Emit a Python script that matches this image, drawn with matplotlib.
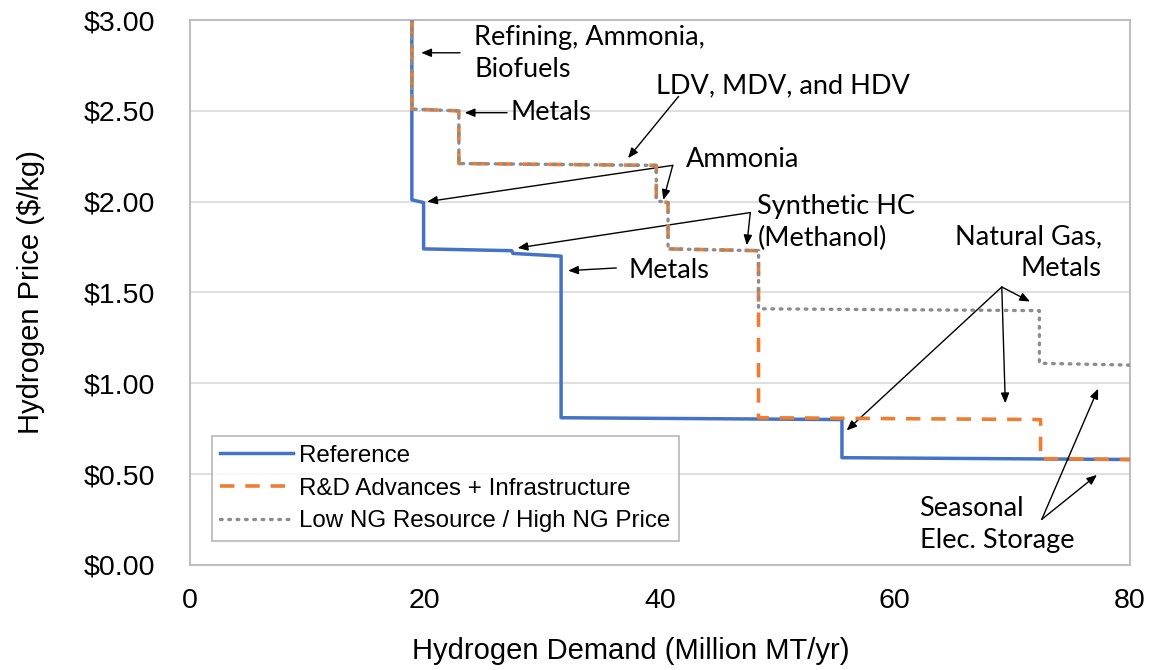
import matplotlib
matplotlib.use("Agg")
import matplotlib.pyplot as plt
from matplotlib.ticker import FuncFormatter

# step curves (demand in Million MT/yr, price in $/kg)
ref_x = [18.9, 18.9, 19.9, 19.9, 27.4, 27.5, 31.6, 31.6, 55.5, 55.5, 80.0]
ref_y = [3.00, 2.01, 1.995, 1.74, 1.73, 1.715, 1.70, 0.81, 0.80, 0.59, 0.58]

rd_x = [18.9, 18.9, 22.9, 22.9, 39.7, 39.7, 40.7, 40.7, 48.4, 48.4, 72.4, 72.4, 80.0]
rd_y = [3.00, 2.51, 2.50, 2.21, 2.20, 2.005, 1.995, 1.74, 1.73, 0.81, 0.80, 0.585, 0.58]

ng_x = [18.9, 18.9, 22.9, 22.9, 39.7, 39.7, 40.7, 40.7, 48.4, 48.4, 72.3, 72.3, 80.0]
ng_y = [3.00, 2.51, 2.50, 2.21, 2.20, 2.005, 1.995, 1.74, 1.73, 1.41, 1.40, 1.11, 1.10]

series_names = ["Reference", "R&D Advances + Infrastructure",
                "Low NG Resource / High NG Price"]

x_ticks = [0, 20, 40, 60, 80]
y_ticks = [0, 0.5, 1.0, 1.5, 2.0, 2.5, 3.0]

plt.rcParams['font.family'] = ['Liberation Sans', 'DejaVu Sans']

fig = plt.figure(figsize=(11.5, 6.7), dpi=100)
ax = fig.add_axes([0.165, 0.157, 0.8175, 0.813])

ax.plot(ref_x, ref_y, color='#4472C4', lw=2.5, label=series_names[0], zorder=3)
ax.plot(rd_x, rd_y, color='#ED7D31', lw=2.6, ls=(0, (4, 3)), label=series_names[1],
        zorder=4)
ax.plot(ng_x, ng_y, color='#8C8C8C', lw=2.4, ls=(0, (0.5, 2.0)),
        dash_capstyle='round', label=series_names[2], zorder=5)

ax.set_xlim(0, 80)
ax.set_ylim(0, 3)
ax.set_xticks(x_ticks)
ax.set_yticks(y_ticks)
ax.yaxis.set_major_formatter(FuncFormatter(lambda v, p: "${:.2f}".format(v)))
ax.tick_params(length=0, labelsize=20.5)
ax.tick_params(axis='y', pad=25)
ax.tick_params(axis='x', pad=17)
ax.grid(axis='y', color='#D9D9D9', lw=1.2)
ax.set_axisbelow(True)
for s in ax.spines.values():
    s.set_color('#BFBFBF')
    s.set_linewidth(1.5)

ax.set_xlabel("Hydrogen Demand (Million MT/yr)", fontsize=21)
ax.xaxis.set_label_coords(0.469, -0.132)
ax.set_ylabel("Hydrogen Price ($/kg)", fontsize=21, labelpad=28)

leg = ax.legend(loc='lower left', bbox_to_anchor=(0.0235, 0.044), fontsize=17.4,
                frameon=True, fancybox=False, edgecolor='#A6A6A6',
                handlelength=3.0, handletextpad=0.25, labelspacing=0.45,
                borderpad=0.35, borderaxespad=0)
leg.get_frame().set_linewidth(1.2)

# annotations
afont = dict(family=['Lato', 'DejaVu Sans'], fontsize=19.5, color='black')
arrow = dict(arrowstyle='-|>,head_length=0.6,head_width=0.25', color='black',
             lw=1.0, shrinkA=0, shrinkB=0)


def note(text, xy, xytext, **kw):
    ax.annotate(text, xy=xy, xytext=xytext, arrowprops=arrow, **kw)


ax.text(24.2, 2.975, "Refining, Ammonia,\nBiofuels", va='top', ha='left',
        linespacing=1.35, **afont)
note("", (19.7, 2.82), (23.0, 2.82))

ax.text(27.3, 2.49, "Metals", va='center', ha='left', **afont)
note("", (23.4, 2.49), (27.0, 2.49))

ax.text(39.7, 2.64, "LDV, MDV, and HDV", va='center', ha='left', **afont)
note("", (37.3, 2.24), (41.6, 2.58))

ax.text(42.2, 2.23, "Ammonia", va='center', ha='left', **afont)
note("", (20.2, 2.00), (41.1, 2.20))
note("", (40.3, 2.01), (41.1, 2.20))

ax.text(48.3, 1.885, "Synthetic HC\n(Methanol)", va='center', ha='left',
        linespacing=1.35, **afont)
note("", (27.9, 1.745), (47.7, 1.94))
note("", (47.4, 1.76), (47.7, 1.94))

ax.text(37.3, 1.62, "Metals", va='center', ha='left', **afont)
note("", (32.2, 1.62), (36.3, 1.635))

ax.text(77.6, 1.72, "Natural Gas,\nMetals", va='center', ha='right',
        multialignment='right', linespacing=1.35, **afont)
note("", (55.9, 0.74), (69.1, 1.53))
note("", (69.4, 0.89), (69.1, 1.53))
note("", (71.5, 1.45), (69.1, 1.53))

ax.text(62.1, 0.22, "Seasonal\nElec. Storage", va='center', ha='left',
        linespacing=1.35, **afont)
note("", (77.3, 0.97), (72.5, 0.25))
note("", (77.2, 0.495), (72.5, 0.25))

fig.savefig("out.png", dpi=100)
